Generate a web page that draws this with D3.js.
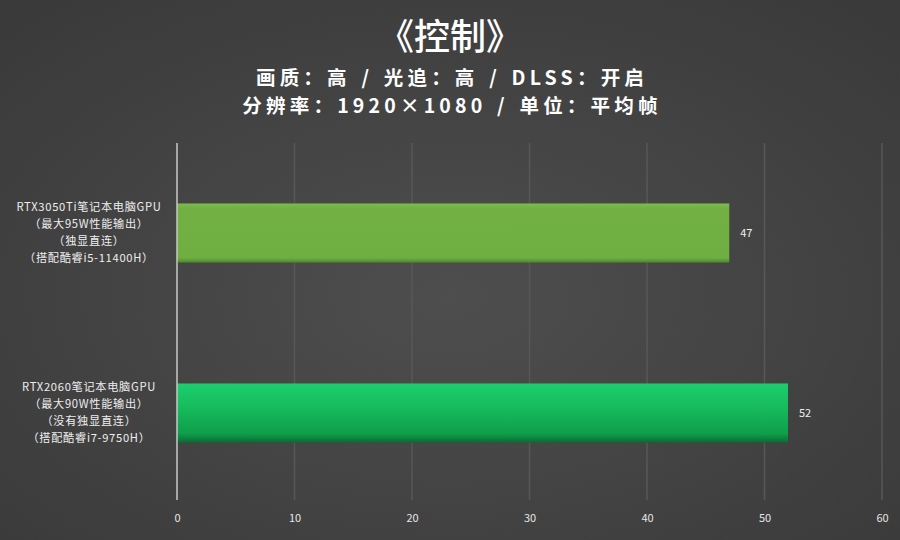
<!DOCTYPE html>
<html>
<head>
<meta charset="utf-8">
<script src="https://cdn.jsdelivr.net/npm/d3@7"></script>
<style>
  html, body { margin: 0; padding: 0; background: #444; }
  svg { display: block; }
</style>
</head>
<body>
<script>
const w = 900
const h = 540

// chart data
const titleText = "《控制》"
const subLines = ["画质：高 / 光追：高 / DLSS：开启", "分辨率：1920×1080 / 单位：平均帧"]
const categories = ["rtx3050ti", "rtx2060"]
const labelLines = [
  ["RTX3050Ti笔记本电脑GPU", "（最大95W性能输出）", "（独显直连）", "（搭配酷睿i5-11400H）"],
  ["RTX2060笔记本电脑GPU", "（最大90W性能输出）", "（没有独显直连）", "（搭配酷睿i7-9750H）"]
]
const values = [47, 52]
const ticks = [0, 10, 20, 30, 40, 50, 60]

const svg = d3.select("body").append("svg").attr("width", w).attr("height", h)
const defs = svg.append("defs")

const bg = defs.append("radialGradient").attr("id", "bg").attr("cx", "50%").attr("cy", "55%").attr("r", "70%")
bg.append("stop").attr("offset", "0%").attr("stop-color", "#4e4e4e")
bg.append("stop").attr("offset", "100%").attr("stop-color", "#3a3a3a")

const g1 = defs.append("linearGradient").attr("id", "bar0").attr("x1", 0).attr("x2", 0).attr("y1", 0).attr("y2", 1)
g1.append("stop").attr("offset", "0%").attr("stop-color", "#7cbd4c")
g1.append("stop").attr("offset", "8%").attr("stop-color", "#72b043")
g1.append("stop").attr("offset", "92%").attr("stop-color", "#6fae42")
g1.append("stop").attr("offset", "100%").attr("stop-color", "#4e8a2a")

const g2 = defs.append("linearGradient").attr("id", "bar1").attr("x1", 0).attr("x2", 0).attr("y1", 0).attr("y2", 1)
g2.append("stop").attr("offset", "0%").attr("stop-color", "#1ccf6c")
g2.append("stop").attr("offset", "40%").attr("stop-color", "#17bb5e")
g2.append("stop").attr("offset", "85%").attr("stop-color", "#0f9e4b")
g2.append("stop").attr("offset", "100%").attr("stop-color", "#0a6b33")

svg.append("rect").attr("width", w).attr("height", h).attr("fill", "url(#bg)")

const font = "'Noto Sans CJK SC', 'Microsoft YaHei', sans-serif"

svg.append("text").attr("x", 450).attr("y", 50).attr("text-anchor", "middle")
  .attr("font-family", font).attr("font-size", 36).attr("font-weight", 500).attr("fill", "#fff").text(titleText)
svg.selectAll("text.sub").data(subLines).enter().append("text").attr("class", "sub")
  .attr("x", 452).attr("y", (d, i) => 85 + i * 28).attr("text-anchor", "middle")
  .attr("font-family", font).attr("font-size", 19.5).attr("font-weight", 700).attr("fill", "#fff")
  .attr("letter-spacing", 4.2).attr("word-spacing", 2).text(d => d)

const x = d3.scaleLinear().domain([0, 60]).range([177, 882])
const y = d3.scaleBand().domain(categories).range([143, 503]).paddingInner(0.672).paddingOuter(0.336)
const bottom = 500

// gridlines
svg.append("g").selectAll("line").data(ticks.slice(1)).enter().append("line")
  .attr("x1", d => x(d)).attr("x2", d => x(d)).attr("y1", 143).attr("y2", bottom)
  .attr("stroke", "#575757").attr("stroke-width", 1.5)

// bars
svg.append("g").selectAll("rect").data(values).enter().append("rect")
  .attr("x", x(0)).attr("y", (d, i) => y(categories[i]))
  .attr("width", d => x(d) - x(0)).attr("height", y.bandwidth())
  .attr("fill", (d, i) => "url(#bar" + i + ")")

// value labels
svg.append("g").selectAll("text").data(values).enter().append("text")
  .attr("x", d => x(d) + 11).attr("y", (d, i) => y(categories[i]) + y.bandwidth() / 2 + 4)
  .attr("font-family", font).attr("font-size", 11).attr("fill", "#eee").text(d => d)

// axis line
svg.append("line").attr("x1", x(0)).attr("x2", x(0)).attr("y1", 143).attr("y2", bottom)
  .attr("stroke", "#c8c8c8").attr("stroke-width", 1.5)

// x tick labels
const xAxis = svg.append("g").attr("transform", "translate(0," + bottom + ")")
  .call(d3.axisBottom(x).tickValues(ticks).tickSize(0).tickPadding(14))
xAxis.select(".domain").remove()
xAxis.selectAll("text").attr("font-family", font).attr("font-size", 11).attr("fill", "#e6e6e6")

// category labels
categories.forEach((c, i) => {
  const cy = y(c) + y.bandwidth() / 2
  const t = svg.append("text").attr("text-anchor", "middle").attr("font-family", font)
    .attr("font-size", 11.2).attr("letter-spacing", 0.7).attr("fill", "#eee")
  labelLines[i].forEach((line, j) => {
    t.append("tspan").attr("x", 89).attr("y", cy - 22 + j * 17).text(line)
  })
})
</script>
</body>
</html>
